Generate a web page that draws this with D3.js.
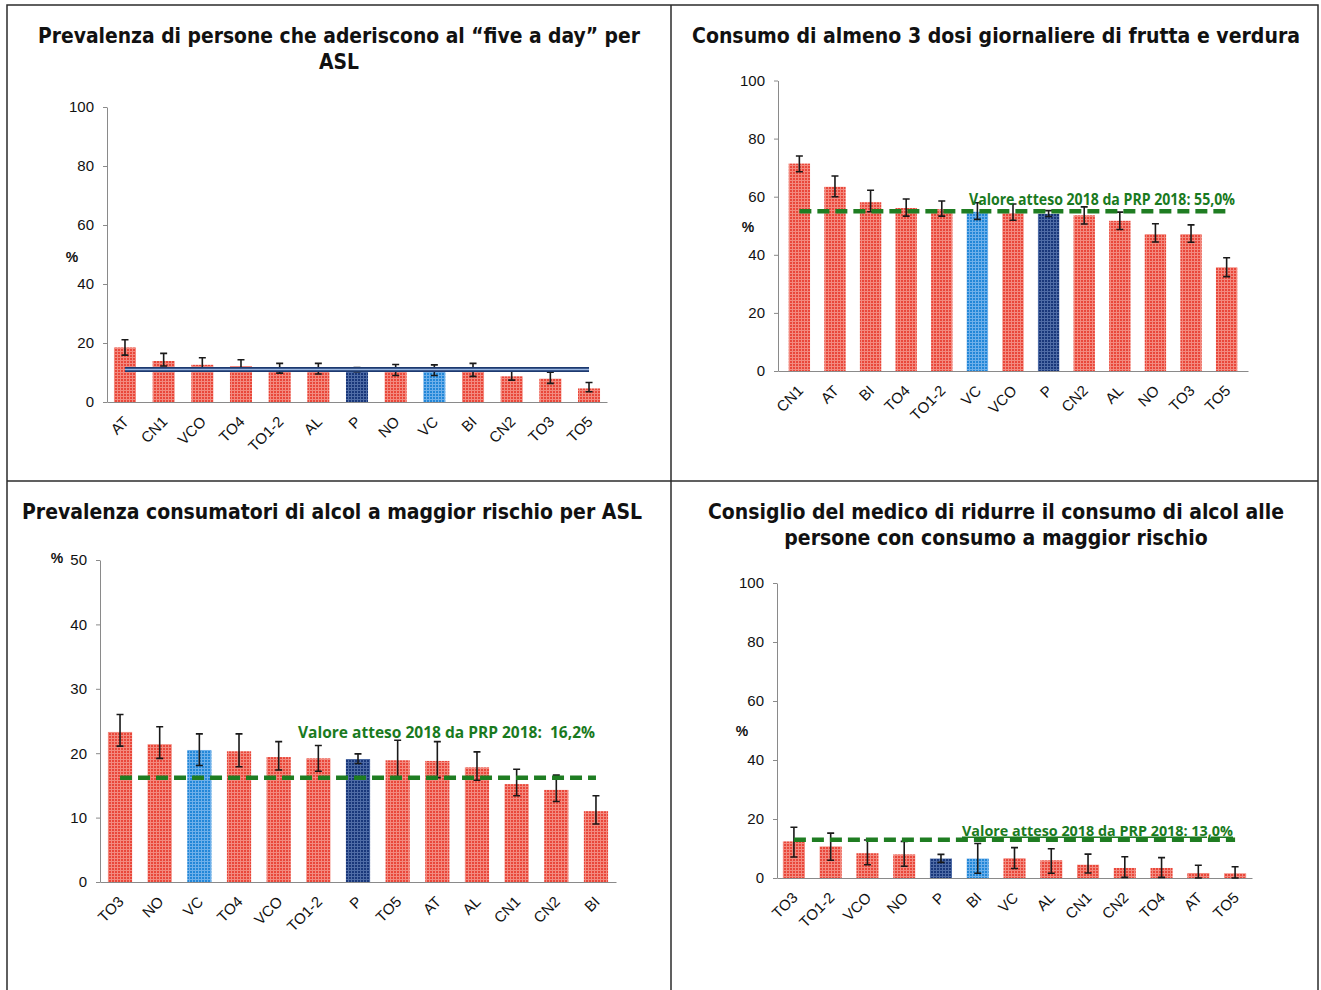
<!DOCTYPE html>
<html><head><meta charset="utf-8">
<script src="https://cdn.jsdelivr.net/npm/d3@7"></script>
<style>
html,body{margin:0;padding:0;background:#fff;}
svg{display:block;}
</style></head><body>
<svg id="chart" width="1321" height="990"></svg>
<script>
// --- "five a day" per ASL ---
const cat1 = ["AT","CN1","VCO","TO4","TO1-2","AL","P","NO","VC","BI","CN2","TO3","TO5"];
const val1 = [18.5, 13.9, 12.6, 12.2, 11.3, 11.1, 11.0, 10.6, 10.7, 10.6, 8.7, 7.9, 4.6];
const lo1  = [15.9, 12.2, 10.9, 10.4, 9.8, 9.5, 10.3, 9.0, 9.0, 8.7, 7.4, 6.3, 3.5];
const hi1  = [21.1, 16.5, 15.0, 14.3, 13.1, 13.1, 11.7, 12.7, 12.6, 13.1, 10.8, 10.1, 6.6];
const evid1 = "VC";
const regione1 = 11.0;
const titolo1 = ["Prevalenza di persone che aderiscono al \u201cfive a day\u201d per", "ASL"];

// --- almeno 3 dosi di frutta e verdura ---
const cat2 = ["CN1","AT","BI","TO4","TO1-2","VC","VCO","P","CN2","AL","NO","TO3","TO5"];
const val2 = [71.4, 63.4, 58.1, 56.1, 55.7, 54.8, 54.3, 54.1, 53.6, 51.7, 47.1, 47.1, 35.7];
const lo2  = [68.6, 60.0, 54.8, 53.3, 53.3, 52.2, 51.9, 53.2, 50.6, 48.7, 44.4, 44.3, 32.5];
const hi2  = [74.0, 67.1, 62.2, 59.2, 58.5, 57.9, 57.5, 55.2, 56.5, 54.7, 50.7, 50.3, 39.0];
const evid2 = "VC";
const atteso2 = 55.0;
const etichetta2 = "Valore atteso 2018 da PRP 2018: 55,0%";
const titolo2 = ["Consumo di almeno 3 dosi giornaliere di frutta e verdura"];

// --- consumatori di alcol a maggior rischio ---
const cat3 = ["TO3","NO","VC","TO4","VCO","TO1-2","P","TO5","AT","AL","CN1","CN2","BI"];
const val3 = [23.3, 21.4, 20.5, 20.3, 19.4, 19.2, 19.1, 18.9, 18.8, 17.8, 15.2, 14.3, 11.0];
const lo3  = [21.1, 19.2, 18.1, 17.9, 17.4, 17.2, 18.4, 16.2, 16.2, 15.8, 13.4, 12.5, 9.0];
const hi3  = [26.0, 24.1, 23.0, 23.0, 21.8, 21.2, 19.9, 22.0, 21.8, 20.2, 17.5, 16.6, 13.4];
const evid3 = "VC";
const atteso3 = 16.2;
const etichetta3 = "Valore atteso 2018 da PRP 2018:  16,2%";
const titolo3 = ["Prevalenza consumatori di alcol a maggior rischio per ASL"];

// --- consiglio del medico di ridurre il consumo di alcol ---
const cat4 = ["TO3","TO1-2","VCO","NO","P","BI","VC","AL","CN1","CN2","TO4","AT","TO5"];
const val4 = [12.4, 10.7, 8.4, 8.0, 6.6, 6.6, 6.7, 6.0, 4.5, 3.4, 3.4, 1.7, 1.6];
const lo4  = [7.1, 6.0, 4.5, 4.0, 5.3, 1.6, 3.2, 1.6, 1.7, 0.2, 0.2, 0.0, 0.0];
const hi4  = [17.2, 15.2, 12.9, 12.4, 8.0, 11.7, 10.3, 9.9, 8.1, 7.2, 6.9, 4.3, 3.8];
const evid4 = "BI";
const atteso4 = 13.0;
const etichetta4 = "Valore atteso 2018 da PRP 2018: 13,0%";
const titolo4 = ["Consiglio del medico di ridurre il consumo di alcol alle", "persone con consumo a maggior rischio"];

const svg = d3.select("#chart");
const defs = svg.append("defs");
const AXIS_FONT = "'Liberation Sans', Arial, sans-serif";

// fine grid texture used by the bars
function grid(id, base, line) {
  const p = defs.append("pattern").attr("id", id)
    .attr("patternUnits", "userSpaceOnUse").attr("width", 3).attr("height", 3);
  p.append("rect").attr("width", 3).attr("height", 3).attr("fill", base);
  p.append("path").attr("d", "M0,0.5H3M0.5,0V3")
    .attr("stroke", line).attr("stroke-width", 1).attr("fill", "none");
}
grid("tex-asl", "#e9473a", "#f38a7f");
grid("tex-evid", "#2287d8", "#6eb0ea");
grid("tex-reg", "#19377a", "#4f6ca6");

// panel frame
svg.append("rect").attr("x", 7).attr("y", 5).attr("width", 1311).attr("height", 1000)
  .attr("fill", "none").attr("stroke", "#2b2b2b").attr("stroke-width", 1.5);
svg.append("line").attr("x1", 671).attr("x2", 671).attr("y1", 5).attr("y2", 990)
  .attr("stroke", "#2b2b2b").attr("stroke-width", 1.5);
svg.append("line").attr("x1", 7).attr("x2", 1318).attr("y1", 481).attr("y2", 481)
  .attr("stroke", "#2b2b2b").attr("stroke-width", 1.5);

function title(lines, cx, baseline, lineH, width, size) {
  const nodes = lines.map((s, i) => svg.append("text")
    .attr("x", cx).attr("y", baseline + i * lineH).attr("text-anchor", "middle")
    .attr("font-family", "'DejaVu Sans Condensed','DejaVu Sans',sans-serif")
    .attr("font-weight", "bold").attr("font-size", size).attr("fill", "#111").text(s));
  const k = width / nodes[0].node().getComputedTextLength();
  nodes.forEach(n => {
    const w = n.node().getComputedTextLength();
    n.attr("textLength", w * k).attr("lengthAdjust", "spacingAndGlyphs");
  });
}

function drawPanel(c) {
  const g = svg.append("g");
  const x = d3.scaleBand().domain(c.cats).range([c.x0, c.x1])
    .paddingInner(c.pi).paddingOuter(c.po);
  const y = d3.scaleLinear().domain([0, c.yMax]).range([c.yBase, c.yTop]);
  const bw = x.bandwidth();

  const ya = g.append("g").attr("transform", `translate(${c.x0},0)`)
    .call(d3.axisLeft(y).tickValues(d3.range(0, c.yMax + 1, c.yStep))
      .tickSize(4).tickPadding(9).tickSizeOuter(0));
  ya.select(".domain").attr("stroke", "#8a8a8a");
  ya.selectAll(".tick line").attr("stroke", "#8a8a8a");
  ya.selectAll("text").attr("font-family", AXIS_FONT).attr("font-size", 15).attr("fill", "#111");

  const xa = g.append("g").attr("transform", `translate(0,${c.yBase})`)
    .call(d3.axisBottom(x).tickSize(0).tickSizeOuter(0));
  xa.select(".domain").attr("stroke", "#8a8a8a");
  xa.selectAll("text").attr("font-family", AXIS_FONT).attr("font-size", 15).attr("fill", "#111")
    .attr("y", 0).attr("dy", "0.35em").attr("text-anchor", "end")
    .attr("transform", "translate(1,17) rotate(-45)");

  g.append("text").attr("x", c.pct[0]).attr("y", c.pct[1]).attr("text-anchor", "middle")
    .attr("font-family", AXIS_FONT).attr("font-weight", "bold").attr("font-size", 14)
    .attr("fill", "#111").text("%");

  g.append("g").selectAll("rect").data(c.cats).join("rect")
    .attr("x", d => x(d)).attr("width", bw)
    .attr("y", (d, i) => y(c.vals[i])).attr("height", (d, i) => y(0) - y(c.vals[i]))
    .attr("fill", d => d === "P" ? "url(#tex-reg)" : d === c.evid ? "url(#tex-evid)" : "url(#tex-asl)");

  const eb = g.append("g").attr("stroke", "#1a1a1a").attr("stroke-width", 1.6).attr("fill", "none");
  eb.selectAll("path").data(c.cats).join("path")
    .attr("d", (d, i) => {
      const cx = x(d) + bw / 2, a = y(c.hi[i]), b = y(c.lo[i]);
      return `M${cx - 3.5},${a}H${cx + 3.5}M${cx},${a}V${b}M${cx - 3.5},${b}H${cx + 3.5}`;
    });

  const xa0 = x(c.cats[0]) + bw / 2, xa1 = x(c.cats[c.cats.length - 1]) + bw / 2;
  if (c.regione !== undefined) {
    const yy = y(c.regione);
    g.append("line").attr("x1", xa0).attr("x2", xa1).attr("y1", yy).attr("y2", yy)
      .attr("stroke", "#1d3a70").attr("stroke-width", 5);
    g.append("line").attr("x1", xa0).attr("x2", xa1).attr("y1", yy).attr("y2", yy)
      .attr("stroke", "#9cb8e2").attr("stroke-width", 1.4);
  }
  if (c.atteso !== undefined) {
    const yy = y(c.atteso);
    g.append("line").attr("x1", xa0).attr("x2", xa1).attr("y1", yy).attr("y2", yy)
      .attr("stroke", "#1f7d22").attr("stroke-width", 4.5).attr("stroke-dasharray", "12 6");
    const t = g.append("text").attr("x", c.lab[0]).attr("y", c.lab[1])
      .attr("font-family", "'Open Sans','Noto Sans',sans-serif").attr("font-weight", "bold")
      .attr("font-size", c.lab[3]).attr("fill", "#1a7a1e").attr("xml:space", "preserve")
      .style("white-space", "pre").text(c.etichetta);
    if (c.lab[4]) t.attr("text-decoration", "underline");
    t.attr("textLength", c.lab[2]).attr("lengthAdjust", "spacingAndGlyphs");
  }
}

title(titolo1, 339, 43, 26, 602, 21);
title(titolo2, 996, 43, 26, 608, 21);
title(titolo3, 332, 519, 26, 620, 21);
title(titolo4, 996, 519, 26, 576, 21);

drawPanel({cats: cat1, vals: val1, lo: lo1, hi: hi1, evid: evid1, regione: regione1,
  yMax: 100, yStep: 20, x0: 107, x1: 607, yTop: 107, yBase: 402, pi: 0.43, po: 0.18, pct: [72, 262]});
drawPanel({cats: cat2, vals: val2, lo: lo2, hi: hi2, evid: evid2, atteso: atteso2, etichetta: etichetta2,
  lab: [969, 205, 266, 16, false],
  yMax: 100, yStep: 20, x0: 778, x1: 1248, yTop: 80.5, yBase: 371, pi: 0.4, po: 0.3, pct: [748, 232]});
drawPanel({cats: cat3, vals: val3, lo: lo3, hi: hi3, evid: evid3, atteso: atteso3, etichetta: etichetta3,
  lab: [298, 738, 297, 16, false],
  yMax: 50, yStep: 10, x0: 100, x1: 616, yTop: 560, yBase: 882, pi: 0.39, po: 0.2, pct: [57, 563]});
drawPanel({cats: cat4, vals: val4, lo: lo4, hi: hi4, evid: evid4, atteso: atteso4, etichetta: etichetta4,
  lab: [962, 835.5, 271, 15, true],
  yMax: 100, yStep: 20, x0: 777, x1: 1252, yTop: 583, yBase: 878, pi: 0.4, po: 0.16, pct: [742, 736]});
</script>
</body></html>
